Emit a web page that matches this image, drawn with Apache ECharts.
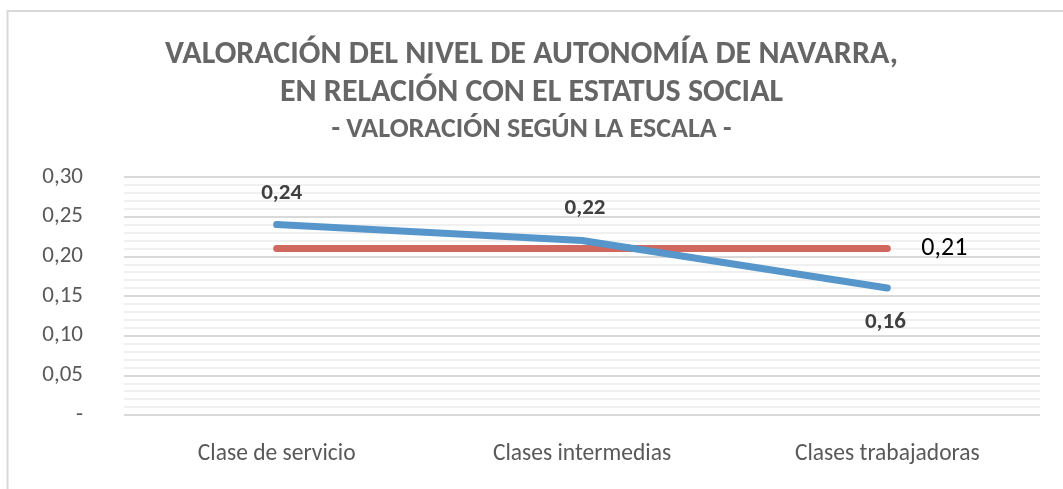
<!DOCTYPE html>
<html>
<head>
<meta charset="utf-8">
<script src="https://cdn.jsdelivr.net/npm/echarts@6/dist/echarts.min.js"></script>
<style>html,body{margin:0;padding:0;background:#fff;}#c{width:1063px;height:489px;}</style>
</head>
<body>
<div id="c"></div>
<script>
const categories = ['Clase de servicio', 'Clases intermedias', 'Clases trabajadoras'];
const valoracion = [0.24, 0.22, 0.16];
const media = [0.21, 0.21, 0.21];
const titleText = 'VALORACIÓN DEL NIVEL DE AUTONOMÍA DE NAVARRA,\nEN RELACIÓN CON EL ESTATUS SOCIAL';
const subtitleText = '- VALORACIÓN SEGÚN LA ESCALA -';

const FONT = "Carlito, 'Liberation Sans Narrow', 'Open Sans', sans-serif";
const fmt = v => v.toFixed(2).replace('.', ',');
const BLUE = '#5796CA', RED = '#D0685F';

const chart = echarts.init(document.getElementById('c'), null, {renderer: 'canvas'});

const blueOffsets = [[5, -31], [3, -32], [-2, 34]];
const blueData = valoracion.map((v, i) => ({
  value: v,
  label: {show: true, position: 'inside', offset: blueOffsets[i], formatter: p => fmt(p.value),
    fontFamily: FONT, fontSize: 23, fontWeight: 'bold', color: '#404040'}
}));
const redData = media.map((v, i) => ({
  value: v,
  label: i === media.length - 1 ? {show: true, position: 'inside', offset: [57, 0], formatter: p => fmt(p.value),
    fontFamily: FONT, fontSize: 26, color: '#000'} : {show: false}
}));

chart.setOption({
  animation: false,
  backgroundColor: '#fff',
  graphic: [{type: 'rect', shape: {x: 7.5, y: 11, width: 1100, height: 600},
    style: {fill: 'none', stroke: '#d9d9d9', lineWidth: 2}, silent: true, z: -1}],
  title: [
    {text: titleText, left: 'center', top: 31,
      textStyle: {fontFamily: FONT, fontSize: 32, fontWeight: 'bold', color: '#666666', lineHeight: 38}},
    {text: subtitleText, left: 'center', top: 111,
      textStyle: {fontFamily: FONT, fontSize: 28, fontWeight: 'bold', color: '#666666'}}
  ],
  grid: {left: 124, right: 23, top: 177, bottom: 74, containLabel: false},
  xAxis: {
    type: 'category', data: categories, boundaryGap: true,
    axisLine: {show: false}, axisTick: {show: false},
    axisLabel: {fontFamily: FONT, fontSize: 23.5, color: '#595959', margin: 27}
  },
  yAxis: {
    type: 'value', min: 0, max: 0.30, interval: 0.05,
    axisLine: {show: false}, axisTick: {show: false},
    axisLabel: {fontFamily: FONT, fontSize: 23, color: '#595959', margin: 41,
      formatter: v => Math.abs(v) < 1e-9 ? '-' : fmt(v)},
    splitLine: {show: true, lineStyle: {color: '#d9d9d9', width: 2}},
    minorTick: {show: false, splitNumber: 5},
    minorSplitLine: {show: true, lineStyle: {color: '#f0f0f0', width: 2}}
  },
  series: [
    {name: 'Valoración', type: 'line', data: blueData, symbol: 'circle', symbolSize: 2, showSymbol: true,
      lineStyle: {color: BLUE, width: 7, cap: 'round', join: 'round'}, itemStyle: {color: BLUE}, z: 3},
    {name: 'Media', type: 'line', data: redData, symbol: 'circle', symbolSize: 2, showSymbol: true,
      lineStyle: {color: RED, width: 7, cap: 'round'}, itemStyle: {color: RED}, z: 2}
  ]
});
</script>
</body>
</html>
